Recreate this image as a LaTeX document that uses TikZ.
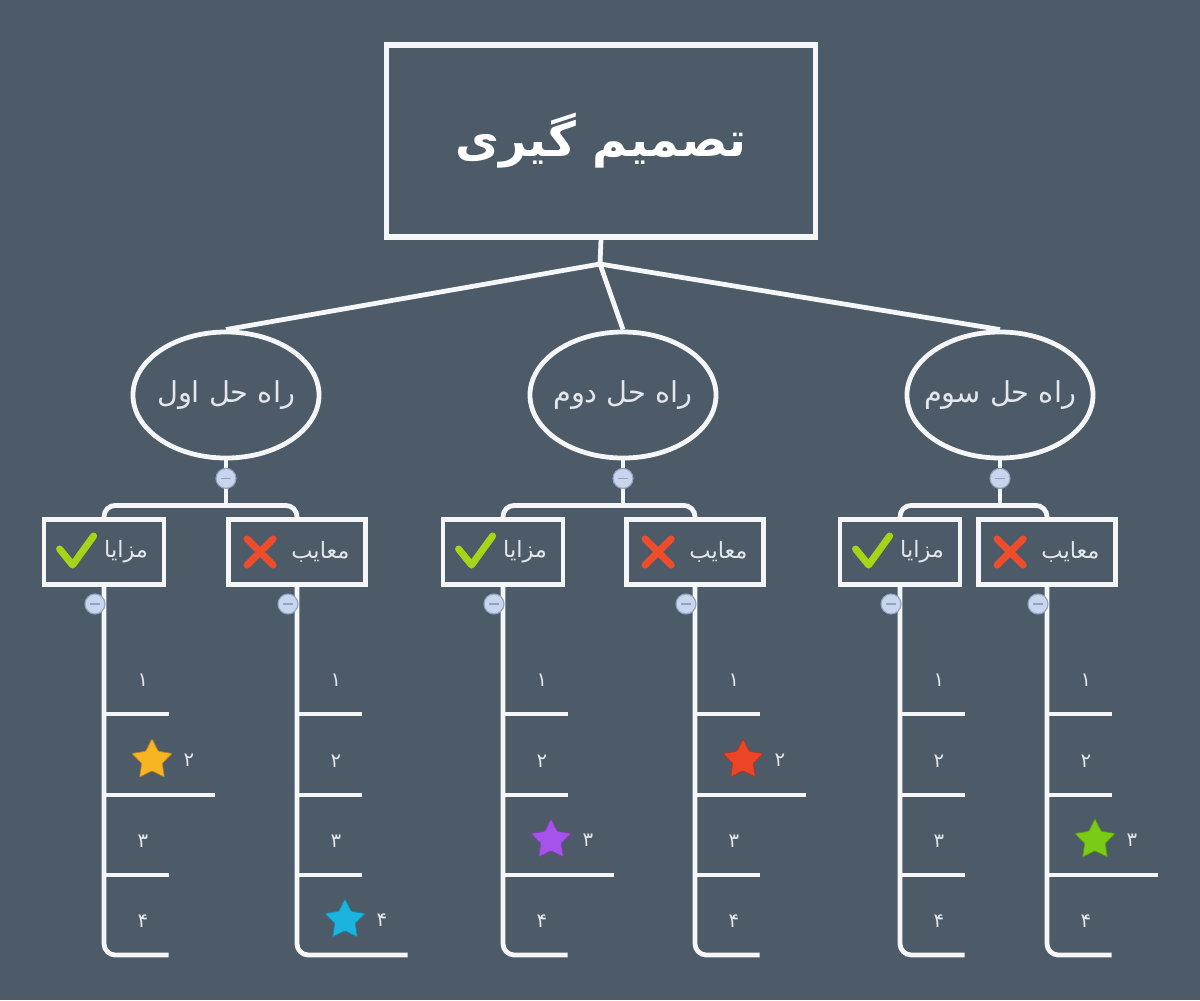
\documentclass[tikz,border=0pt]{standalone}
\usepackage{fontspec}
\newfontfamily\farsi[Script=Arabic]{DejaVu Sans}
\TeXXeTstate=1
\usetikzlibrary{shapes.geometric}
\usetikzlibrary{calc}
\usetikzlibrary{positioning}
\definecolor{bgslate}{HTML}{4D5A67}
\definecolor{paleline}{HTML}{F4F6F8}
\definecolor{paletext}{HTML}{E3E7EB}
\definecolor{knobfill}{HTML}{C8D5EC}
\definecolor{knobring}{HTML}{90A3C4}
\definecolor{tickgreen}{HTML}{A5D419}
\definecolor{crossred}{HTML}{EE4D2B}
\definecolor{staryellow}{HTML}{F8B422}
\definecolor{starcyan}{HTML}{1CB3DE}
\definecolor{starpurple}{HTML}{A553EA}
\definecolor{starred}{HTML}{EB4528}
\definecolor{stargreen}{HTML}{79CB16}

\tikzset{
  link/.style={draw=paleline, line width=3.4pt},
  rootbox/.style={draw=paleline, line width=3.6pt, minimum width=10.7cm, minimum height=4.8cm,
    text=white, font=\farsi\bfseries\fontsize{34}{40}\selectfont},
  solution/.style={ellipse, draw=paleline, line width=3.4pt, minimum width=4.65cm,
    minimum height=3.15cm, inner xsep=-0.4cm, inner ysep=0pt, text=paletext,
    font=\farsi\fontsize{20.5}{24}\selectfont},
  procon/.style={draw=paleline, line width=3.4pt, minimum height=1.63cm, inner xsep=0.4cm,
    align=right, text=paletext, font=\farsi\fontsize{16}{19}\selectfont},
  knob/.style={circle, fill=knobfill, draw=knobring, line width=0.8pt, minimum size=0.5cm, inner sep=0pt},
  num/.style={text=paletext, font=\farsi\fontsize{14}{16}\selectfont, inner sep=0pt},
  prize/.style={star, star points=5, star point ratio=1.95, minimum size=1.05cm, inner sep=0pt,
    draw=#1!75!black, fill=#1, line width=0.5pt, rounded corners=0.6pt},
  tick/.style={draw=tickgreen, line width=5pt, line cap=round, line join=round},
  cross/.style={draw=crossred, line width=5pt, line cap=round},
}

\begin{document}
\begin{tikzpicture}[x=0.025cm, y=-0.025cm]
\fill[bgslate] (0,0) rectangle (1200,1000);

%root
\node[rootbox] (root) at (601,141) {\beginR تصمیم گیری\endR};
\coordinate (hub) at (600,264);

%solutions
\node[solution] (sol1) at (226,395) {\beginR راه حل اول\endR};
\node[solution] (sol2) at (623,395) {\beginR راه حل دوم\endR};
\node[solution] (sol3) at (1000,395) {\beginR راه حل سوم\endR};

\draw[link] (root.south) -- (hub);
\draw[link] (hub) -- (sol1.north);
\draw[link] (hub) -- (sol2.north);
\draw[link] (hub) -- (sol3.north);

%pros and cons
\node[procon, text width=2.2cm] (a1) at (104,552) {\beginR مزایا\endR};
\node[procon, text width=2.625cm] (d1) at (297,552) {\beginR معایب\endR};
\node[procon, text width=2.2cm] (a2) at (503,552) {\beginR مزایا\endR};
\node[procon, text width=2.625cm] (d2) at (695,552) {\beginR معایب\endR};
\node[procon, text width=2.2cm] (a3) at (900,552) {\beginR مزایا\endR};
\node[procon, text width=2.625cm] (d3) at (1047,552) {\beginR معایب\endR};

\foreach \s/\a/\d in {sol1/a1/d1, sol2/a2/d2, sol3/a3/d3}{
  \coordinate (\s-j) at ($(\s.south)+(0,45)$);
  \draw[link, rounded corners=8] (\a.north) |- (\s-j) -| (\d.north);
  \draw[link] (\s.south) -- (\s-j);
  \node[knob] (\s-k) at ($(\s.south)+(0,18)$) {};
  \draw[knobring, line width=1pt] ($(\s-k)+(-5,0)$) -- ($(\s-k)+(5,0)$);
  \draw[tick] ($(\a.west)+(18,-3)$) -- ++(13,16) -- ++(21,-29);
  \draw[cross] ($(\d.west)+(34,0)$) +(-13,-13) -- +(13,13) +(-13,13) -- +(13,-13);
}

%items
\coordinate (r1) at (0,714);
\coordinate (r2) at (0,795);
\coordinate (r3) at (0,875);
\coordinate (r4) at (0,955);

\foreach \b/\st/\sc in {a1/2/staryellow, d1/4/starcyan, a2/3/starpurple, d2/2/starred, a3/0/staryellow, d3/3/stargreen}{
  \foreach \i/\dg in {1/۱,2/۲,3/۳,4/۴}{
    \ifnum\i=\st\relax
      \node[num] (\b-n\i) at ($(\b.south |- r\i)+(85,-35)$) {\dg};
      \node[prize=\sc] (\b-s\i) at ($(\b-n\i.center)+(-37,0)$) {};
    \else
      \node[num] (\b-n\i) at ($(\b.south |- r\i)+(39,-34)$) {\dg};
    \fi
  }
  \foreach \i in {1,2,3}
    \draw[link] (\b.south |- r\i) -- ($(\b-n\i.east |- r\i)+(20,0)$);
  \draw[link, rounded corners=8] (\b.south) -- (\b.south |- r4) -- ($(\b-n4.east |- r4)+(20,0)$);
  \node[knob] (\b-k) at ($(\b.south)+(-9,17)$) {};
  \draw[knobring, line width=1pt] ($(\b-k)+(-5,0)$) -- ($(\b-k)+(5,0)$);
}
\end{tikzpicture}
\end{document}
